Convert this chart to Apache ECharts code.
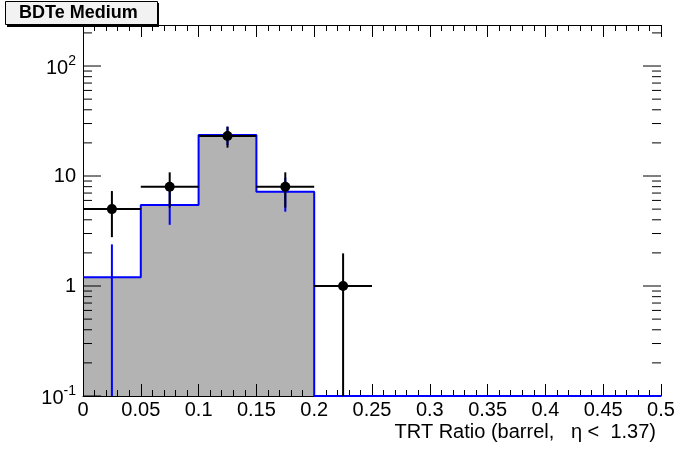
<!DOCTYPE html>
<html>
<head>
<meta charset="utf-8">
<script src="https://cdn.jsdelivr.net/npm/echarts@6/dist/echarts.min.js"></script>
<style>
  html, body { margin: 0; padding: 0; background: #fff; }
  #chart { width: 696px; height: 472px; }
</style>
</head>
<body>
<div id="chart"></div>
<script>
// ---- data ----
var binEdges   = [0, 0.05, 0.1, 0.15, 0.2, 0.25, 0.3, 0.35, 0.4, 0.45, 0.5];
var mcValues   = [1.2, 5.45, 23.6, 7.2, 0, 0, 0, 0, 0, 0];
var mcErrors   = [1.19, 1.85, 4.5, 2.46, 0, 0, 0, 0, 0, 0];
var dataX      = [0.025, 0.075, 0.125, 0.175, 0.225];
var dataY      = [5, 8, 23.1, 8, 1];
var dataErrLo  = [2.22, 2.83, 5.0, 2.83, 1.0];
var dataErrHi  = [2.3, 2.8, 5.0, 2.8, 0.98];
var dataErrX   = [0.025, 0.025, 0.025, 0.025, 0.025];
var xTickLabels = ['0', '0.05', '0.1', '0.15', '0.2', '0.25', '0.3', '0.35', '0.4', '0.45', '0.5'];
var yMajorValues = [0.1, 1, 10, 100];
var yMinorValues = [0.2, 0.3, 0.4, 0.5, 0.6, 0.7, 0.8, 0.9, 2, 3, 4, 5, 6, 7, 8, 9, 20, 30, 40, 50, 60, 70, 80, 90, 200];
var titleText = 'BDTe Medium';
var xTitle = 'TRT Ratio (barrel,   \u03b7 <  1.37)';

var Y_MIN = 0.1, Y_MAX = 236;
var FONT = 'Liberation Sans, Arial, Helvetica, sans-serif';

// histogram step data
var histData = [];
for (var i = 0; i < mcValues.length; i++) {
  histData.push([binEdges[i], mcValues[i] > 0 ? mcValues[i] : Y_MIN]);
}
histData.push([binEdges[binEdges.length - 1], mcValues[mcValues.length - 1] > 0 ? mcValues[mcValues.length - 1] : Y_MIN]);

var mcErrData = [];
for (var j = 0; j < mcValues.length; j++) {
  if (mcValues[j] > 0) mcErrData.push([(binEdges[j] + binEdges[j + 1]) / 2, mcValues[j], mcErrors[j]]);
}
var pointData = dataX.map(function (x, k) { return [x, dataY[k], dataErrLo[k], dataErrHi[k], dataErrX[k]]; });
var yTickData = yMajorValues.map(function (v) { return [0, v, 18]; })
  .concat(yMinorValues.map(function (v) { return [0, v, 9]; }));

function yLabel(v) {
  var l = Math.log(v) / Math.LN10;
  var r = Math.round(l);
  if (Math.abs(l - r) > 1e-6) return '';
  if (r === 0) return '{p|1}';
  if (r === 1) return '{p|10}';
  return '{b|10}{s|' + r + '}';
}

var chart = echarts.init(document.getElementById('chart'), null, { renderer: 'canvas' });

var axisLabelCommon = { color: '#000', fontFamily: FONT, fontSize: 20 };

chart.setOption({
  animation: false,
  backgroundColor: '#fff',
  title: {
    text: titleText,
    left: 5, top: 1,
    padding: [3, 20, 2, 14],
    backgroundColor: '#f2f2f2',
    borderColor: '#000', borderWidth: 1,
    textStyle: { fontFamily: FONT, fontWeight: 'bold', fontSize: 18, color: '#000', lineHeight: 19 }
  },
  graphic: [
    { type: 'rect', z: -1, shape: { x: 7, y: 3, width: 152, height: 24 }, style: { fill: '#000' } },
    { type: 'text', right: 40, top: 422, z: 10,
      style: { text: xTitle, font: '20px ' + FONT, fill: '#000' } }
  ],
  grid: { left: 83, right: 35, top: 25, bottom: 76, containLabel: false },
  xAxis: [
    {
      type: 'value', min: 0, max: 0.5, interval: 0.05, position: 'bottom', z: 3,
      axisLine: { show: true, lineStyle: { color: '#000', width: 1 } },
      axisTick: { show: true, inside: true, length: 12, lineStyle: { color: '#000', width: 1 } },
      minorTick: { show: true, splitNumber: 5, length: 6, lineStyle: { color: '#000', width: 1 } },
      splitLine: { show: false },
      axisLabel: Object.assign({ margin: 4, formatter: function (v) {
        var idx = Math.round(v / 0.05); return xTickLabels[idx] !== undefined ? xTickLabels[idx] : '';
      } }, axisLabelCommon)
    },
    {
      type: 'value', min: 0, max: 0.5, interval: 0.05, position: 'top', z: 3,
      axisLine: { show: true, lineStyle: { color: '#000', width: 1 } },
      axisTick: { show: true, inside: true, length: 12, lineStyle: { color: '#000', width: 1 } },
      minorTick: { show: true, splitNumber: 5, length: 6, lineStyle: { color: '#000', width: 1 } },
      splitLine: { show: false },
      axisLabel: { show: false }
    }
  ],
  yAxis: [
    {
      type: 'log', logBase: 10, min: Y_MIN, max: Y_MAX, interval: 1, position: 'left', z: 3,
      axisLine: { show: true, lineStyle: { color: '#000', width: 1 } },
      axisTick: { show: false },
      minorTick: { show: false },
      splitLine: { show: false },
      axisLabel: {
        margin: 7, formatter: yLabel, color: '#000',
        rich: {
          p: { fontFamily: FONT, fontSize: 20, color: '#000' },
          b: { fontFamily: FONT, fontSize: 20, color: '#000', lineHeight: 24, verticalAlign: 'bottom' },
          s: { fontFamily: FONT, fontSize: 14, color: '#000', lineHeight: 24, verticalAlign: 'top' }
        }
      }
    },
    {
      type: 'log', logBase: 10, min: Y_MIN, max: Y_MAX, interval: 1, position: 'right', z: 3,
      axisLine: { show: true, lineStyle: { color: '#000', width: 1 } },
      axisTick: { show: false },
      minorTick: { show: false },
      splitLine: { show: false },
      axisLabel: { show: false }
    }
  ],
  series: [
    { // grey fill
      type: 'line', step: 'end', data: histData, z: 1, symbol: 'none',
      lineStyle: { width: 0, color: '#b3b3b3' },
      areaStyle: { color: '#b3b3b3', opacity: 1, origin: 'start' },
      silent: true
    },
    { // y ticks (left and right), major and minor
      type: 'custom', z: 4, silent: true,
      data: yTickData,
      renderItem: function (params, api) {
        var v = api.value(1), len = api.value(2);
        var pl = api.coord([0, v]);
        var pr = api.coord([0.5, v]);
        return { type: 'group', children: [
          { type: 'line', shape: { x1: pl[0], y1: pl[1], x2: pl[0] + len, y2: pl[1] }, style: { stroke: '#000', lineWidth: 1 } },
          { type: 'line', shape: { x1: pr[0], y1: pr[1], x2: pr[0] - len, y2: pr[1] }, style: { stroke: '#000', lineWidth: 1 } }
        ] };
      }
    },
    { // blue histogram outline
      type: 'line', step: 'end', data: histData, z: 5, symbol: 'none',
      lineStyle: { width: 2, color: '#0000ff' }, silent: true
    },
    { // MC error bars (blue)
      type: 'custom', z: 6, silent: true, data: mcErrData,
      renderItem: function (params, api) {
        var x = api.value(0), y = api.value(1), e = api.value(2);
        var lo = api.coord([x, Math.max(y - e, Y_MIN)]);
        var hi = api.coord([x, Math.min(y + e, Y_MAX)]);
        return { type: 'line', shape: { x1: lo[0], y1: lo[1], x2: hi[0], y2: hi[1] }, style: { stroke: '#0000ff', lineWidth: 2 } };
      }
    },
    { // data points with error bars
      type: 'custom', z: 7, silent: true, data: pointData,
      renderItem: function (params, api) {
        var x = api.value(0), y = api.value(1), el = api.value(2), eh = api.value(3), ex = api.value(4);
        var c = api.coord([x, y]);
        var l = api.coord([x - ex, y]);
        var r = api.coord([x + ex, y]);
        var lo = api.coord([x, Math.max(y - el, Y_MIN)]);
        var hi = api.coord([x, y + eh]);
        return { type: 'group', children: [
          { type: 'line', shape: { x1: l[0], y1: l[1], x2: r[0], y2: r[1] }, style: { stroke: '#000', lineWidth: 2 } },
          { type: 'line', shape: { x1: lo[0], y1: lo[1], x2: hi[0], y2: hi[1] }, style: { stroke: '#000', lineWidth: 2 } },
          { type: 'circle', shape: { cx: c[0], cy: c[1], r: 5 }, style: { fill: '#000' } }
        ] };
      }
    }
  ]
});
</script>
</body>
</html>
